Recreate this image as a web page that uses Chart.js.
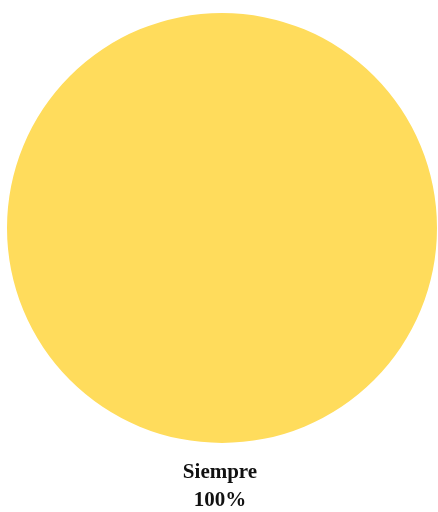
<!DOCTYPE html>
<html>
<head>
<meta charset="utf-8">
<script src="https://cdn.jsdelivr.net/npm/chart.js@4/dist/chart.umd.min.js"></script>
<style>
  html, body { margin: 0; padding: 0; background: #fff; }
  #wrap { width: 438px; height: 512px; }
</style>
</head>
<body>
<div id="wrap"><canvas id="myChart"></canvas></div>
<script>
const categories = ['Siempre'];
const values = [100];
const colors = ['#FFDC5C'];

// writes the category name and its share under the pie
const bottomLabel = {
    id: 'bottomLabel',
    afterDatasetsDraw(chart) {
        const ctx = chart.ctx;
        const arc = chart.getDatasetMeta(0).data[0];
        const total = values.reduce((a, b) => a + b, 0);
        const pct = Math.round(values[0] / total * 100) + '%';
        const y = arc.y + arc.outerRadius;
        ctx.save();
        ctx.fillStyle = '#111';
        ctx.font = 'bold 21px "Liberation Serif", "Times New Roman", serif';
        ctx.textAlign = 'center';
        ctx.textBaseline = 'alphabetic';
        ctx.fillText(categories[0], arc.x - 2, y + 35);
        ctx.fillText(pct, arc.x - 2, y + 63);
        ctx.restore();
    }
};

new Chart('myChart', {
    type: 'pie',
    data: {
        labels: categories,
        datasets: [{
            data: values,
            backgroundColor: colors,
            borderWidth: 0
        }]
    },
    options: {
        responsive: true,
        maintainAspectRatio: false,
        animation: false,
        layout: { padding: { left: 7, right: 1, top: 13, bottom: 69 } },
        plugins: {
            legend: { display: false },
            tooltip: { enabled: false }
        }
    },
    plugins: [bottomLabel]
});
</script>
</body>
</html>
